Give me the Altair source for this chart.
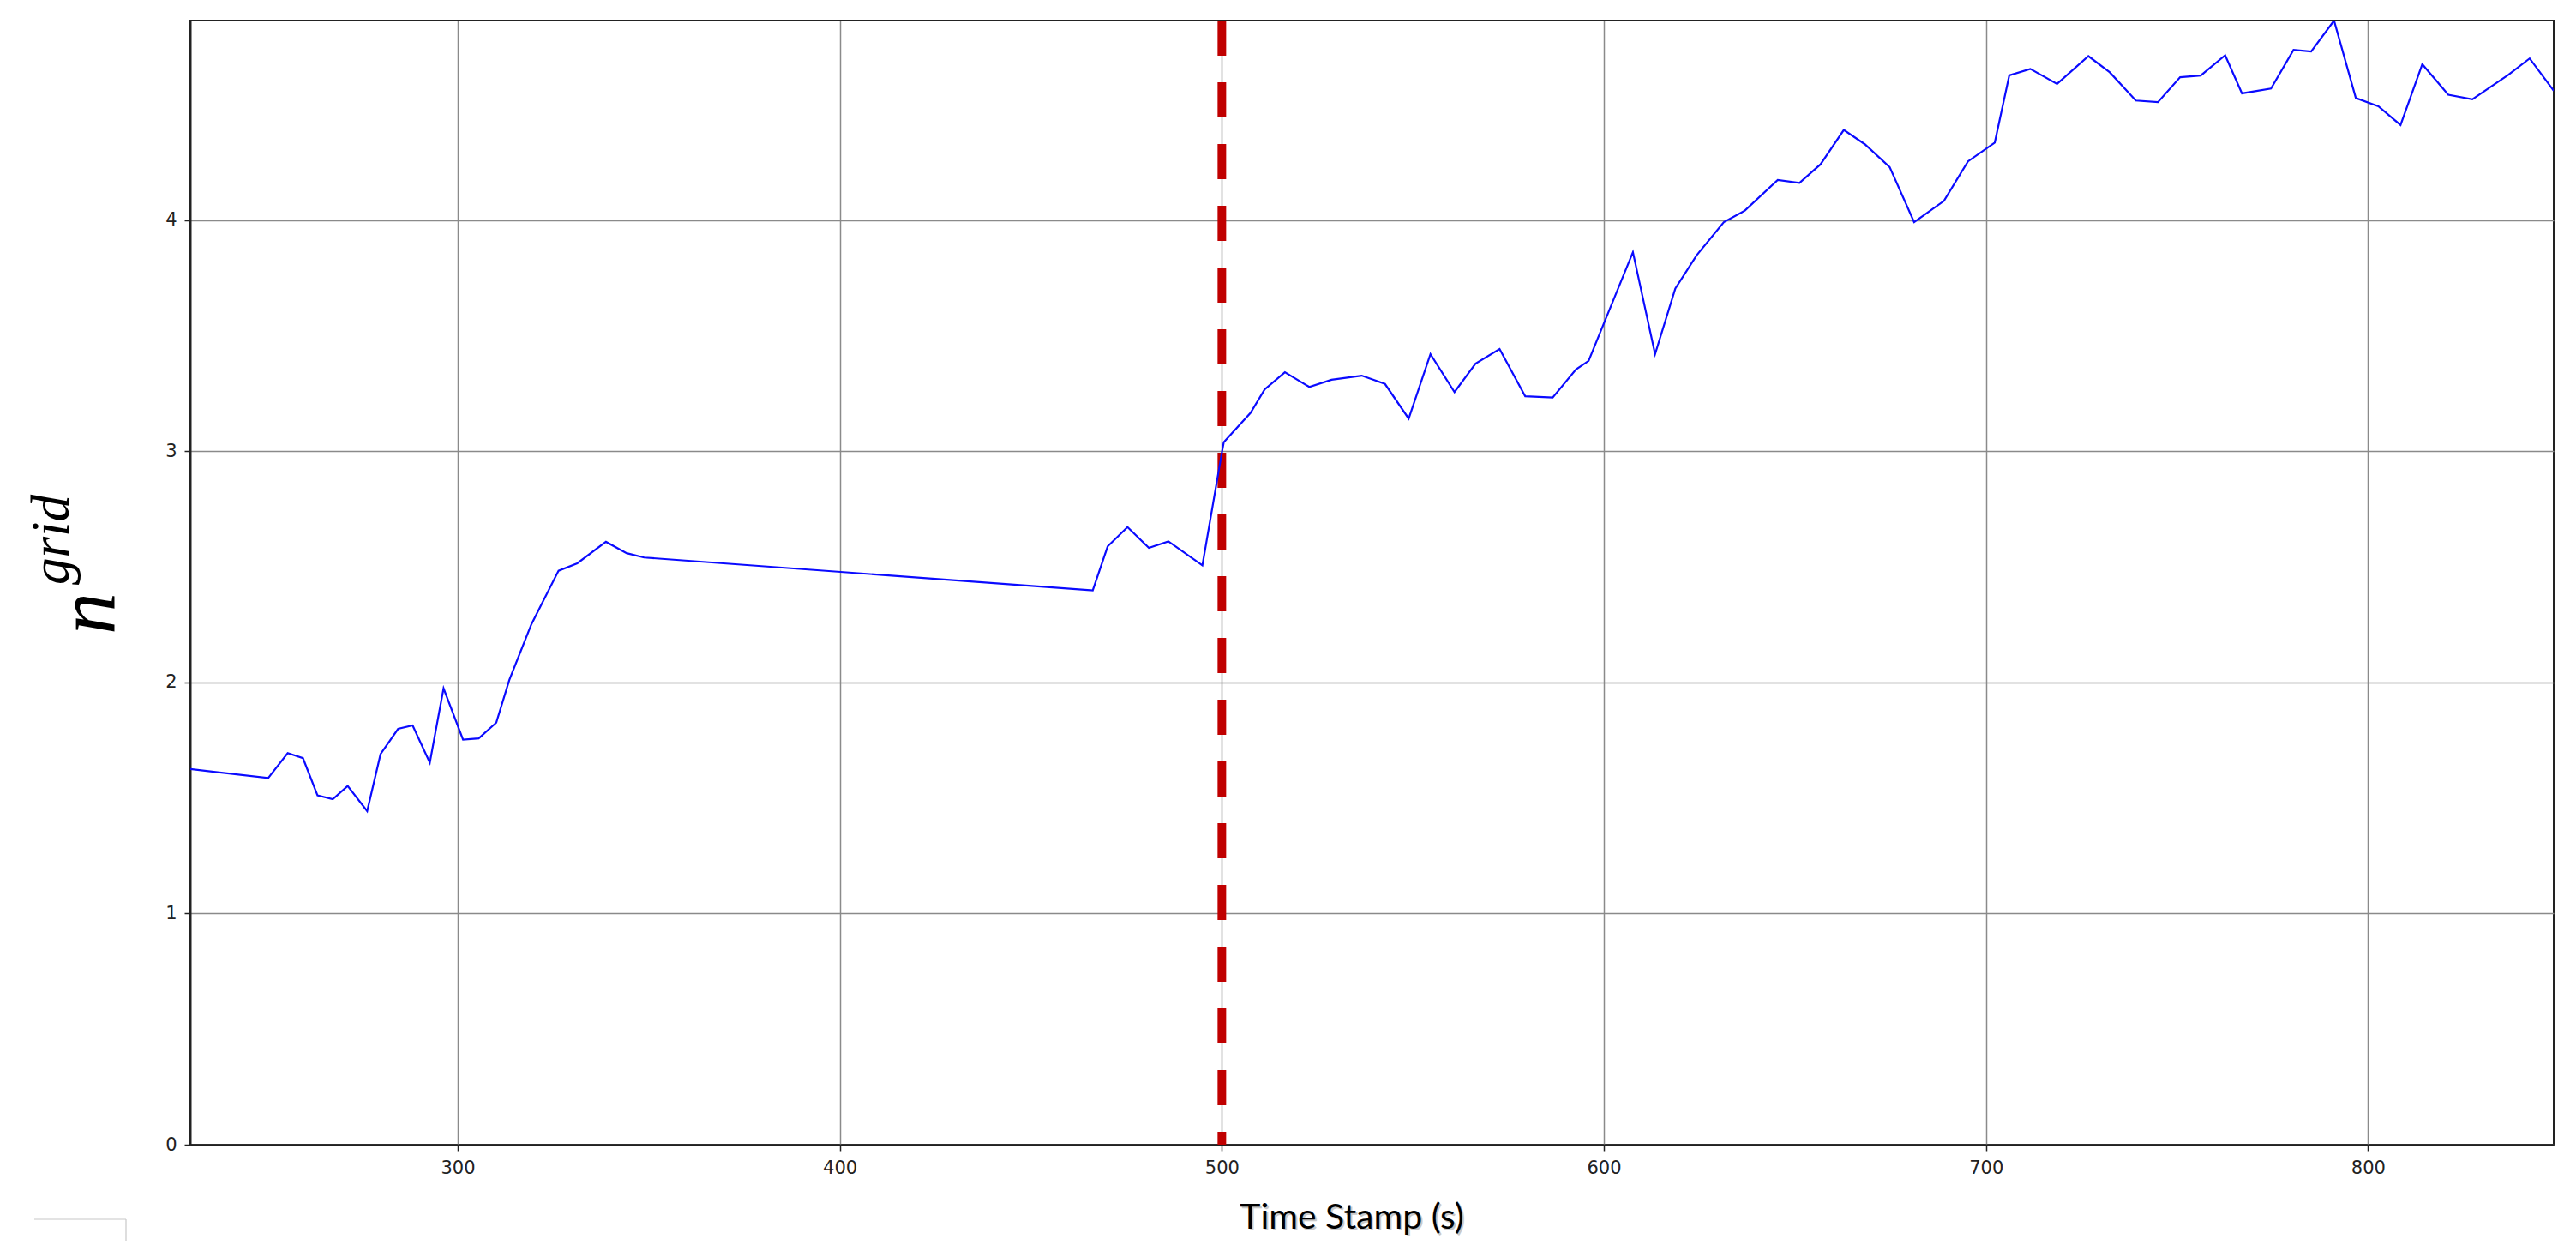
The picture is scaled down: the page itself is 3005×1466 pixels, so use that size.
import altair as alt
import pandas as pd

# Time stamps (s)
time_s = [
    230.0, 250.4, 255.5, 259.5, 263.3, 267.3, 271.2, 276.3, 279.8, 284.4,
    288.2, 292.7, 296.3, 301.4, 305.5, 310.1, 313.5, 319.3, 326.4, 331.3,
    338.8, 344.2, 348.8, 466.2, 470.1, 475.3, 480.9, 486.0, 494.9, 500.0,
    500.5, 507.5, 511.2, 516.5, 522.9, 528.7, 536.6, 542.7, 548.9, 554.6,
    560.9, 566.4, 572.7, 579.4, 586.6, 592.7, 596.0, 607.6, 613.4, 618.7,
    624.3, 631.4, 636.9, 645.5, 651.2, 656.7, 662.8, 668.3, 674.8, 681.2,
    689.0, 695.3, 702.3, 706.1, 711.6, 718.6, 726.8, 732.4, 739.2, 745.0,
    750.8, 756.2, 762.6, 767.0, 774.6, 780.5, 785.1, 791.1, 796.8, 802.7,
    808.5, 814.2, 821.0, 827.3, 836.7, 842.3, 848.6,
]

# n^grid values
n_grid = [
    1.625, 1.586, 1.694, 1.672, 1.511, 1.495, 1.552, 1.443, 1.690, 1.799,
    1.814, 1.653, 1.974, 1.752, 1.758, 1.826, 2.010, 2.252, 2.483, 2.515,
    2.608, 2.559, 2.540, 2.398, 2.588, 2.672, 2.582, 2.610, 2.506, 2.994,
    3.039, 3.166, 3.267, 3.342, 3.278, 3.309, 3.327, 3.291, 3.141, 3.420,
    3.256, 3.379, 3.442, 3.238, 3.232, 3.354, 3.391, 3.861, 3.420, 3.704,
    3.848, 3.991, 4.041, 4.173, 4.161, 4.241, 4.390, 4.328, 4.229, 3.991,
    4.083, 4.254, 4.335, 4.626, 4.654, 4.589, 4.709, 4.639, 4.517, 4.510,
    4.618, 4.625, 4.713, 4.548, 4.569, 4.736, 4.729, 4.863, 4.528, 4.492,
    4.411, 4.674, 4.542, 4.522, 4.628, 4.699, 4.559,
]

x_ticks = [300, 400, 500, 600, 700, 800]
y_ticks = [0, 1, 2, 3, 4]
x_domain = [230.0, 848.6]
y_domain = [0, 4.863]
marker_time = [500]

W, H = 2757, 1311

df = pd.DataFrame({"t": time_s, "n": n_grid})
marker_df = pd.DataFrame({"t": marker_time})
one = pd.DataFrame({"k": [0]})

x_scale = alt.Scale(domain=x_domain, nice=False, zero=False)
y_scale = alt.Scale(domain=y_domain, nice=False)

axis_common = dict(
    grid=True, gridColor="#8a8a8a", gridWidth=1.5,
    domainColor="#222222", domainWidth=2,
    tickColor="#222222", tickSize=7, tickWidth=1.5,
    labelFont="DejaVu Sans", labelFontSize=21, labelColor="#222222",
    labelPadding=9, title=None,
)

line = alt.Chart(df).mark_line(color="#0a0aff", strokeWidth=2.2, clip=True).encode(
    x=alt.X("t:Q", scale=x_scale, axis=alt.Axis(values=x_ticks, **axis_common)),
    y=alt.Y("n:Q", scale=y_scale, axis=alt.Axis(values=y_ticks, **axis_common)),
)

marker = alt.Chart(marker_df).mark_rule(
    color="#c00000", strokeWidth=10, strokeDash=[41, 31]
).encode(
    x=alt.X("t:Q", scale=x_scale),
    y=alt.value(0),
    y2=alt.value(H),
)

# y-axis label n^grid (italic serif, with superscript)
lab_n = alt.Chart(one).mark_text(
    text="n", font="Liberation Serif", fontStyle="italic", fontSize=98,
    angle=270, align="left", baseline="alphabetic", color="#000000",
).encode(x=alt.value(-89), y=alt.value(716))

lab_grid = alt.Chart(one).mark_text(
    text="grid", font="Liberation Serif", fontStyle="italic", fontSize=63,
    angle=270, align="left", baseline="alphabetic", color="#000000",
).encode(x=alt.value(-142), y=alt.value(658))

# x-axis title with a soft drop shadow
XT_X = 1355
xt_shadow = alt.Chart(one).mark_text(
    text="Time Stamp (s)", font="Lato", fontSize=41, align="center",
    baseline="alphabetic", color="#888888", opacity=0.45,
).encode(x=alt.value(XT_X + 2), y=alt.value(1411))

xt = alt.Chart(one).mark_text(
    text="Time Stamp (s)", font="Lato", fontSize=41, align="center",
    baseline="alphabetic", color="#000000",
).encode(x=alt.value(XT_X), y=alt.value(1409))

# small grey corner mark at bottom-left of the reference
corner_h = alt.Chart(one).mark_rule(color="#c8c8c8", strokeWidth=1.2).encode(
    x=alt.value(-182), x2=alt.value(-75), y=alt.value(1398)
)
corner_v = alt.Chart(one).mark_rule(color="#c8c8c8", strokeWidth=1.2).encode(
    x=alt.value(-75), y=alt.value(1398), y2=alt.value(1423)
)

chart = alt.layer(
    marker, line, lab_n, lab_grid, xt_shadow, xt, corner_h, corner_v
).properties(
    width=W, height=H,
    autosize=alt.AutoSizeParams(type="none"),
    padding={"left": 214, "top": 16, "right": 18, "bottom": 120},
    background="white",
).configure_view(stroke="#222222", strokeWidth=2)

chart.save("out.html", embed_options={"renderer": "svg", "actions": False})
